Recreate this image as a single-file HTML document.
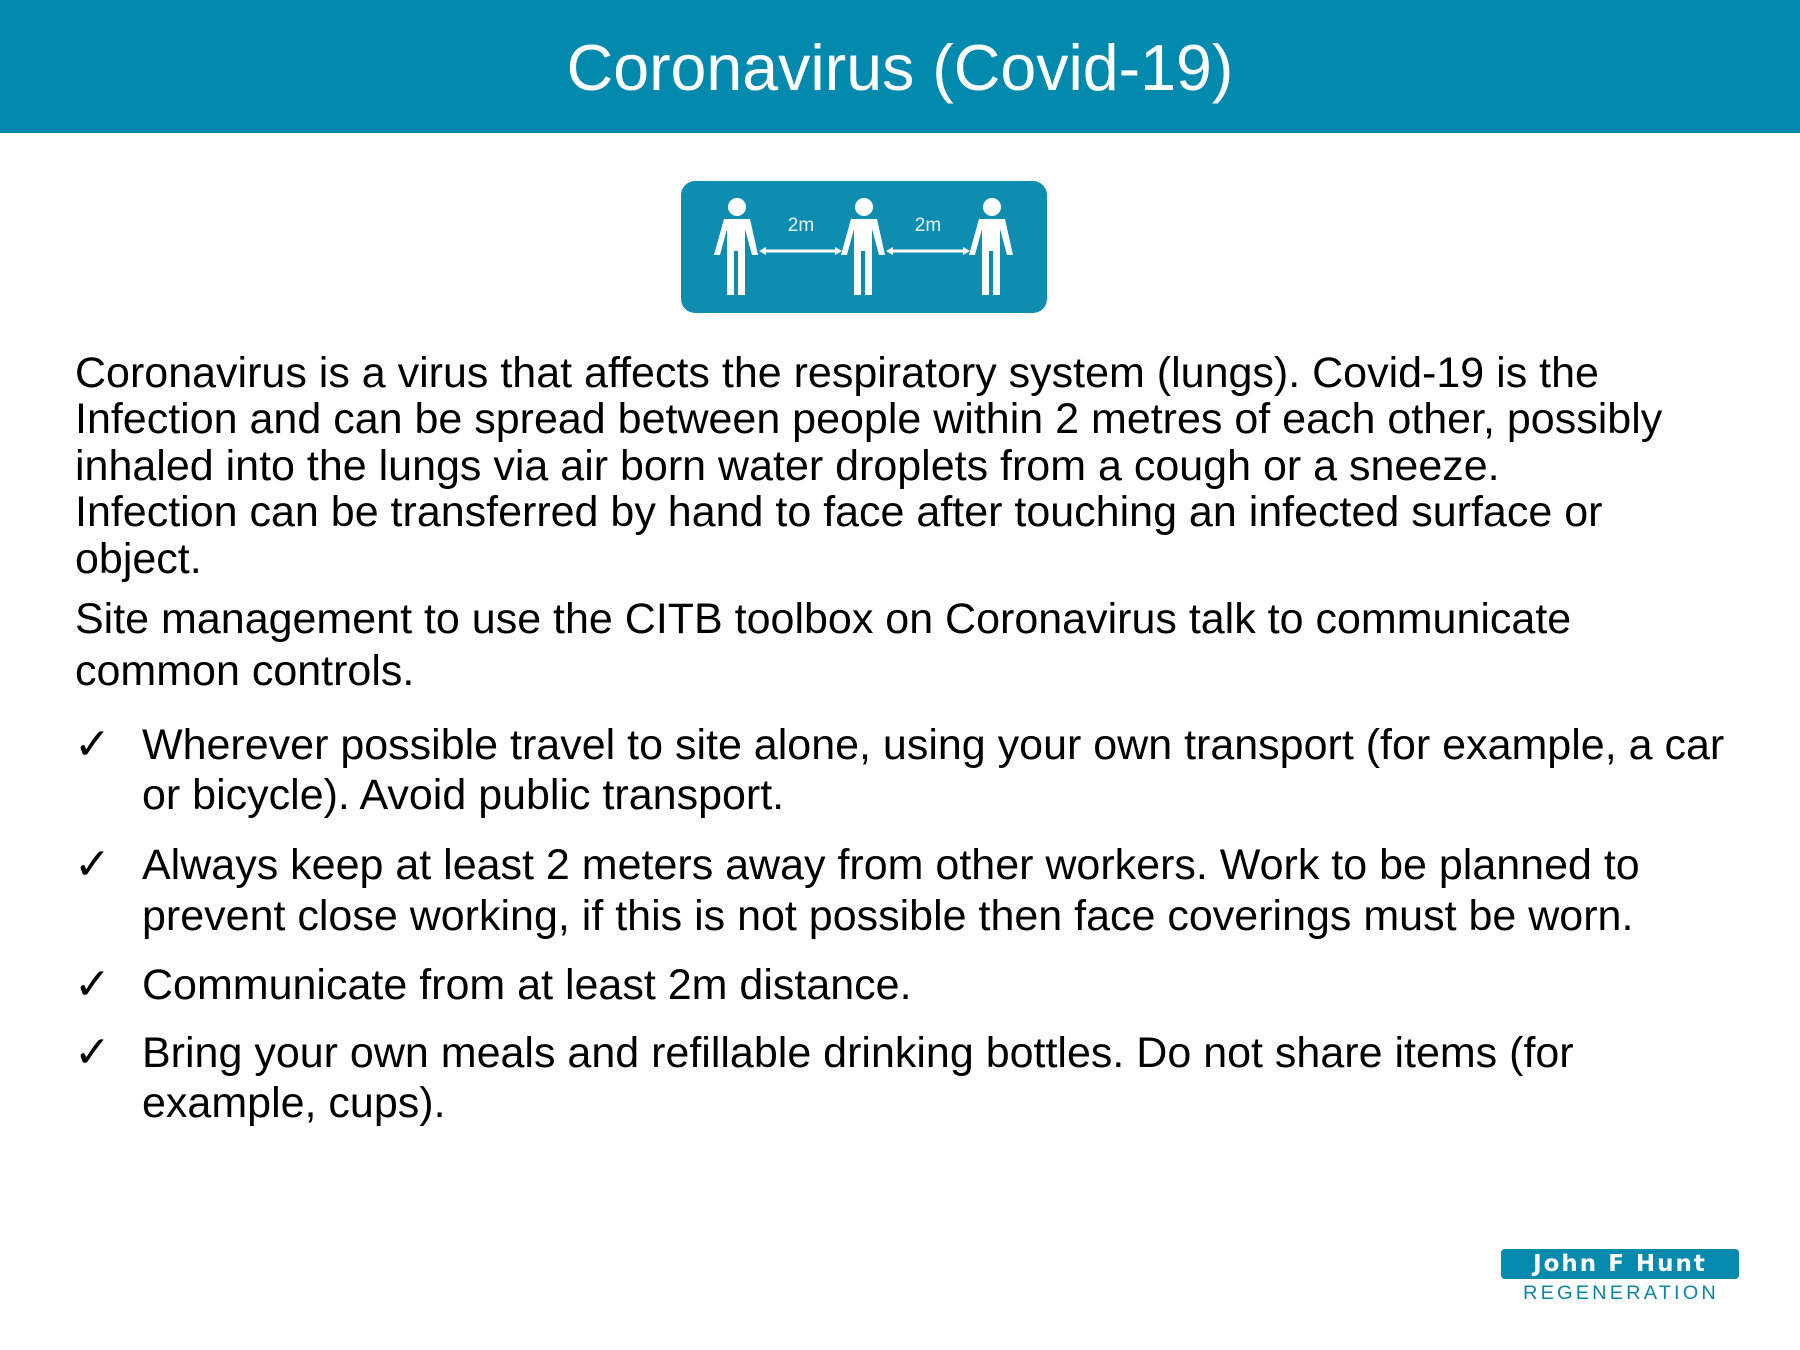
<!DOCTYPE html>
<html><head><meta charset="utf-8"><style>
body{margin:0;width:1800px;height:1350px;background:#fff;position:relative;overflow:hidden;font-family:"Liberation Sans",Arial,sans-serif;color:#000}
.hdr{position:absolute;left:0;top:0;width:1800px;height:133px;background:#028aae}
.title{position:absolute;left:0;width:1800px;top:31px;text-align:center;color:#fff;font-size:64.5px;line-height:74px}
.l{position:absolute;white-space:nowrap;font-size:43px;line-height:46px}
.ck{position:absolute;font-size:44px;left:74px;line-height:46px}
</style></head><body>
<div class="hdr"><div class="title">Coronavirus (Covid-19)</div></div>

<svg style="position:absolute;left:681px;top:181px" width="366" height="132" viewBox="0 0 366 132">
<defs><g id="p" fill="#fff">
<circle cx="0" cy="26" r="9"/>
<path d="M-13 38 h26 l8 36 h-6 l-7 -26 v66 h-7 v-44 h-4 v44 h-7 v-66 l-7 26 h-6 z"/>
</g></defs>
<rect x="0" y="0" width="366" height="132" rx="14" fill="#0f8db0"/>
<use href="#p" x="56"/><use href="#p" x="183"/><use href="#p" x="311"/>
<g stroke="#fff" stroke-width="3" fill="#fff">
<line x1="82" y1="70" x2="157" y2="70"/><line x1="209" y1="70" x2="285" y2="70"/>
<path d="M78 70 l7 -4 v8z M161 70 l-7 -4 v8z M205 70 l7 -4 v8z M289 70 l-7 -4 v8z" stroke="none"/>
</g>
<text x="120" y="50" fill="#e8f6fa" font-size="19" text-anchor="middle" font-family="Liberation Sans, sans-serif">2m</text>
<text x="247" y="50" fill="#e8f6fa" font-size="19" text-anchor="middle" font-family="Liberation Sans, sans-serif">2m</text>
</svg>

<div>
<div class="l" style="left:75px;top:350px">Coronavirus is a virus that affects the respiratory system (lungs). Covid-19 is the</div>
<div class="l" style="left:75px;top:396px">Infection and can be spread between people within 2 metres of each other, possibly</div>
<div class="l" style="left:75px;top:443px">inhaled into the lungs via air born water droplets from a cough or a sneeze.</div>
<div class="l" style="left:75px;top:489px">Infection can be transferred by hand to face after touching an infected surface or</div>
<div class="l" style="left:75px;top:536px">object.</div>
</div>
<div>
<div class="l" style="left:75px;top:596px">Site management to use the CITB toolbox on Coronavirus talk to communicate</div>
<div class="l" style="left:75px;top:648px">common controls.</div>
</div>

<div>
<div class="ck" style="top:722px">✓</div>
<div class="l" style="left:142px;top:722px">Wherever possible travel to site alone, using your own transport (for example, a car</div>
<div class="l" style="left:142px;top:772px">or bicycle). Avoid public transport.</div>
</div>
<div>
<div class="ck" style="top:842px">✓</div>
<div class="l" style="left:142px;top:842px">Always keep at least 2 meters away from other workers. Work to be planned to</div>
<div class="l" style="left:142px;top:893px">prevent close working, if this is not possible then face coverings must be worn.</div>
</div>
<div>
<div class="ck" style="top:962px">✓</div>
<div class="l" style="left:142px;top:962px">Communicate from at least 2m distance.</div>
</div>
<div>
<div class="ck" style="top:1030px">✓</div>
<div class="l" style="left:142px;top:1030px">Bring your own meals and refillable drinking bottles. Do not share items (for</div>
<div class="l" style="left:142px;top:1080px">example, cups).</div>
</div>

<div>
<div style="position:absolute;left:1501px;top:1249px;width:238px;height:30px;background:#068aad;border-radius:4px;color:#fff;font-weight:bold;font-size:23px;line-height:30px;text-align:center;letter-spacing:2px;font-family:'DejaVu Sans','Liberation Sans',sans-serif">John F Hunt</div>
<div style="position:absolute;left:1508px;top:1285px;width:226px;text-align:center;color:#0a86a8;font-size:19px;line-height:18px;letter-spacing:3px;transform:scaleX(1.05)">REGENERATION</div>
</div>
</body></html>
